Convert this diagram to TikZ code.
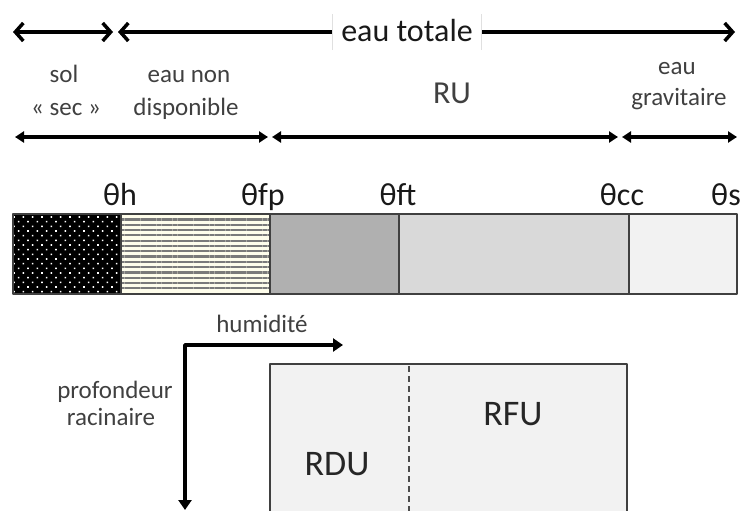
\documentclass[tikz,border=0pt]{standalone}
\usepackage{fontspec}
\setmainfont{Carlito}
\usetikzlibrary{arrows.meta, patterns.meta, positioning}

\begin{document}
\begin{tikzpicture}[x=1pt, y=-1pt, line join=round, font=\fontsize{25}{32}\selectfont]
    \tikzstyle{bigtxt}=[font=\fontsize{32}{38}\selectfont, text=black!90, inner sep=0pt, anchor=base]
    \tikzstyle{smalltxt}=[font=\fontsize{25}{32}\selectfont, text=black!75, inner sep=0pt, anchor=base]
    \tikzstyle{zonetxt}=[font=\fontsize{36}{42}\selectfont, text=black!85, inner sep=0pt, anchor=base]
    \tikzstyle{spanarrow}=[line width=3.5pt, {Straight Barb[length=8pt,width=18pt]}-{Straight Barb[length=8pt,width=18pt]}]
    \tikzstyle{rangearrow}=[line width=3.2pt, {Triangle[length=9pt,width=11pt]}-{Triangle[length=9pt,width=11pt]}]
    \tikzstyle{axisarrow}=[line width=3.8pt, {Triangle[length=10pt,width=13pt]}-{Triangle[length=10pt,width=13pt]}]
    \tikzstyle{barline}=[draw=black!75, line width=1.5pt]

    \useasboundingbox (0,0) rectangle (745,511);
    \clip (0,0) rectangle (745,511);

    % eau totale
    \coordinate (sl) at (13,32);
    \coordinate (sr) at (113,32);
    \coordinate (tl) at (118,32);
    \coordinate (tr) at (735,32);
    \draw[spanarrow] (sl) -- (sr);
    \draw[spanarrow] (tl) -- (tr);
    \node[bigtxt, fill=white, inner xsep=8.5pt, inner ysep=4pt, text height=24pt, text depth=4pt] (tot) at (407,42) {eau totale};
    \draw[black!12, line width=0.8pt] (tot.north west) -- (tot.south west);
    \draw[black!12, line width=0.8pt] (tot.north east) -- (tot.south east);

    % zones
    \node[smalltxt] (sol) at (64,83) {sol};
    \node[smalltxt] (sec) at (66,115) {« sec »};
    \node[smalltxt] (nd1) at (189,83) {eau non};
    \node[smalltxt] (nd2) at (186,115) {disponible};
    \node[bigtxt, text=black!75] (ru) at (452,103) {RU};
    \node[smalltxt] (gr1) at (677,75) {eau};
    \node[smalltxt] (gr2) at (679,106) {gravitaire};

    \coordinate (r0) at (15,137);
    \coordinate (r1) at (268,137);
    \coordinate (r2) at (272,137);
    \coordinate (r3) at (618,137);
    \coordinate (r4) at (622,137);
    \coordinate (r5) at (737,137);
    \draw[rangearrow] (r0) -- (r1);
    \draw[rangearrow] (r2) -- (r3);
    \draw[rangearrow] (r4) -- (r5);

    % seuils
    \node[bigtxt] (th) at (120,205) {θh};
    \node[bigtxt] (tfp) at (263,205) {θfp};
    \node[bigtxt] (tft) at (398,205) {θft};
    \node[bigtxt] (tcc) at (622,205) {θcc};
    \node[bigtxt] (ts) at (726,205) {θs};

    % barre
    \fill[black] (13,214) rectangle (121,294);
    \fill[pattern={Dots[distance=6.6pt, angle=45, radius=1.1pt]}, pattern color=white] (13,214) rectangle (121,294);
    \fill[black!5!yellow!8!white] (121,214) rectangle (270,294);
    \fill[pattern={Lines[distance=5.3pt, line width=2.2pt]}, pattern color=black!52] (121,214) rectangle (270,294);
    \fill[black!31] (270,214) rectangle (399,294);
    \fill[black!15] (399,214) rectangle (629,294);
    \fill[black!5] (629,214) rectangle (737,294);
    \draw[barline] (13,214) rectangle (737,294);
    \draw[barline] (121,214) -- (121,294);
    \draw[barline] (270,214) -- (270,294);
    \draw[barline, line width=2.2pt] (399,214) -- (399,294);
    \draw[barline] (629,214) -- (629,294);
    \draw[barline, line width=2.2pt] (399,294) -- (431,294);

    % axes
    \coordinate (org) at (185,345);
    \coordinate (hum) at (343,345);
    \coordinate (prof) at (185,510);
    \draw[axisarrow] (hum) -- (org) -- (prof);
    \node[smalltxt] (humlab) at (262,332) {humidité};
    \node[smalltxt] (pr1) at (115,398) {profondeur};
    \node[smalltxt] (pr2) at (111,425) {racinaire};

    % reserve
    \fill[black!5] (270,364) rectangle (627,530);
    \draw[barline] (270,530) -- (270,364) -- (627,364) -- (627,530);
    \draw[black!70, line width=1.5pt, dash pattern=on 6pt off 4pt] (409,366) -- (409,530);
    \node[zonetxt] (rfu) at (513,425) {RFU};
    \node[zonetxt] (rdu) at (337,475) {RDU};
\end{tikzpicture}
\end{document}
